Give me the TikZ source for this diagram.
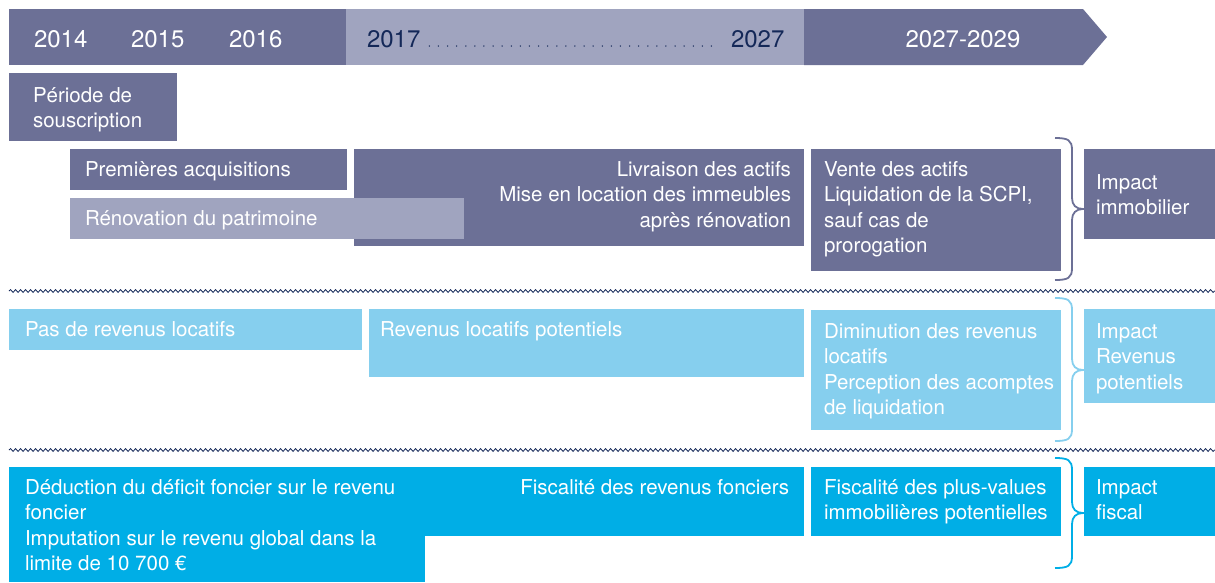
\documentclass[tikz,border=0pt]{standalone}
\usepackage{fontspec}
\setmainfont{TeX Gyre Heros}
\usetikzlibrary{decorations.pathmorphing}
\definecolor{slate}{RGB}{108,112,150}
\definecolor{lslate}{RGB}{160,164,191}
\definecolor{sky}{RGB}{134,207,238}
\definecolor{cyanb}{RGB}{0,174,230}
\definecolor{navy}{RGB}{20,40,88}
\newcommand{\firstln}{\rule{0pt}{17pt}}
\newcommand{\mybrace}[5]{% color, x0, top, mid, bottom
  \draw[#1, line width=1.8pt] (#2,#3) .. controls ({#2+13},#3) and ({#2+17},{#3+2}) .. ({#2+17},{#3+12})
    -- ({#2+17},{#4-11}) .. controls ({#2+17},{#4-4}) and ({#2+21},#4) .. ({#2+28},#4)
    .. controls ({#2+21},#4) and ({#2+17},{#4+4}) .. ({#2+17},{#4+11})
    -- ({#2+17},{#5-12}) .. controls ({#2+17},{#5-2}) and ({#2+13},#5) .. (#2,#5);}
\begin{document}
\begin{tikzpicture}[x=1pt,y=-1pt,
  blk/.style={inner sep=0, outer sep=0, anchor=north west, draw=none},
  txt/.style={inner sep=0, outer sep=0, anchor=north west, align=left, text=white,
              font=\fontsize{20.5}{25.6}\selectfont},
  rtxt/.style={txt, anchor=north east, align=right},
  yr/.style={inner sep=0, outer sep=0, anchor=base west, text=white, font=\fontsize{24}{28}\selectfont},
  wave/.style={navy, line width=0.8pt, decorate, decoration={snake, amplitude=1.4pt, segment length=5pt}}]
\useasboundingbox (0,0) rectangle (1215,582);

% timeline bar
\fill[slate] (9,9) rectangle (346,65);
\fill[lslate] (346,9) rectangle (804,65);
\fill[slate] (804,9) -- (1083,9) -- (1107,37) -- (1083,65) -- (804,65) -- cycle;
\node[yr] (y14) at (34,47) {2014};
\node[yr] (y15) at (131,47) {2015};
\node[yr] (y16) at (229,47) {2016};
\node[yr, text=navy] (y17) at (367,47) {2017};
\node[yr, text=navy] (y27) at (731,47) {2027};
\node[yr, anchor=base] (y29) at (963,47) {2027-2029};
\draw[navy, line width=1.5pt, line cap=round, dash pattern=on 0pt off 9.1pt] (y17.base east) ++(9,-1) -- ([xshift=-17pt,yshift=1pt]y27.base west);

% row 1
\node[blk, fill=slate, minimum width=168pt, minimum height=68pt] (bper) at (9,73) {};
\node[txt] (tper) at (33,85) {\firstln Période de\\souscription};
\node[blk, fill=slate, minimum width=277pt, minimum height=41pt] (bpre) at (70,149) {};
\node[txt] (tpre) at (85,159) {\firstln Premières acquisitions};
\node[blk, fill=slate, minimum width=450pt, minimum height=97pt] (bliv) at (354,149) {};
\node[rtxt] (tliv) at (791,159) {\firstln Livraison des actifs\\Mise en location des immeubles\\après rénovation};
\node[blk, fill=lslate, minimum width=394pt, minimum height=41pt] (bren) at (70,198) {};
\node[txt] (tren) at (85,208) {\firstln Rénovation du patrimoine};
\node[blk, fill=slate, minimum width=250pt, minimum height=122pt] (bven) at (811,149) {};
\node[txt] (tven) at (824,159) {\firstln Vente des actifs\\Liquidation de la SCPI,\\sauf cas de\\prorogation};
\node[blk, fill=slate, minimum width=131pt, minimum height=90pt] (bimm) at (1084,149) {};
\node[txt] (timm) at (1096,172) {\firstln Impact\\immobilier};
\mybrace{slate}{1055}{138}{209}{280}

\draw[wave] (9,291) -- (1215,291);

% row 2
\node[blk, fill=sky, minimum width=353pt, minimum height=41pt] (bpas) at (9,309) {};
\node[txt] (tpas) at (25,319) {\firstln Pas de revenus locatifs};
\node[blk, fill=sky, minimum width=435pt, minimum height=68pt] (brev) at (369,309) {};
\node[txt] (trev) at (380,319) {\firstln Revenus locatifs potentiels};
\node[blk, fill=sky, minimum width=250pt, minimum height=120pt] (bdim) at (811,310) {};
\node[txt] (tdim) at (824,321) {\firstln Diminution des revenus\\locatifs\\Perception des acomptes\\de liquidation};
\node[blk, fill=sky, minimum width=131pt, minimum height=94pt] (bir) at (1084,309) {};
\node[txt] (tir) at (1096,321) {\firstln Impact\\Revenus\\potentiels};
\mybrace{sky}{1055}{298}{370}{441}

\draw[wave] (9,450) -- (1215,450);

% row 3
\node[blk, fill=cyanb, minimum width=795pt, minimum height=69pt] (bfis) at (9,467) {};
\node[blk, fill=cyanb, minimum width=416pt, minimum height=47pt] (bded) at (9,535) {};
\node[txt] (tded) at (25,477) {\firstln Déduction du déficit foncier sur le revenu\\foncier\\Imputation sur le revenu global dans la\\limite de 10 700 €};
\node[rtxt] (tfis) at (789,477) {\firstln Fiscalité des revenus fonciers};
\node[blk, fill=cyanb, minimum width=250pt, minimum height=69pt] (bpv) at (811,467) {};
\node[txt] (tpv) at (824,477) {\firstln Fiscalité des plus-values\\immobilières potentielles};
\node[blk, fill=cyanb, minimum width=131pt, minimum height=69pt] (bif) at (1084,467) {};
\node[txt] (tif) at (1096,477) {\firstln Impact\\fiscal};
\mybrace{cyanb}{1055}{458}{513}{568}
\end{tikzpicture}
\end{document}
